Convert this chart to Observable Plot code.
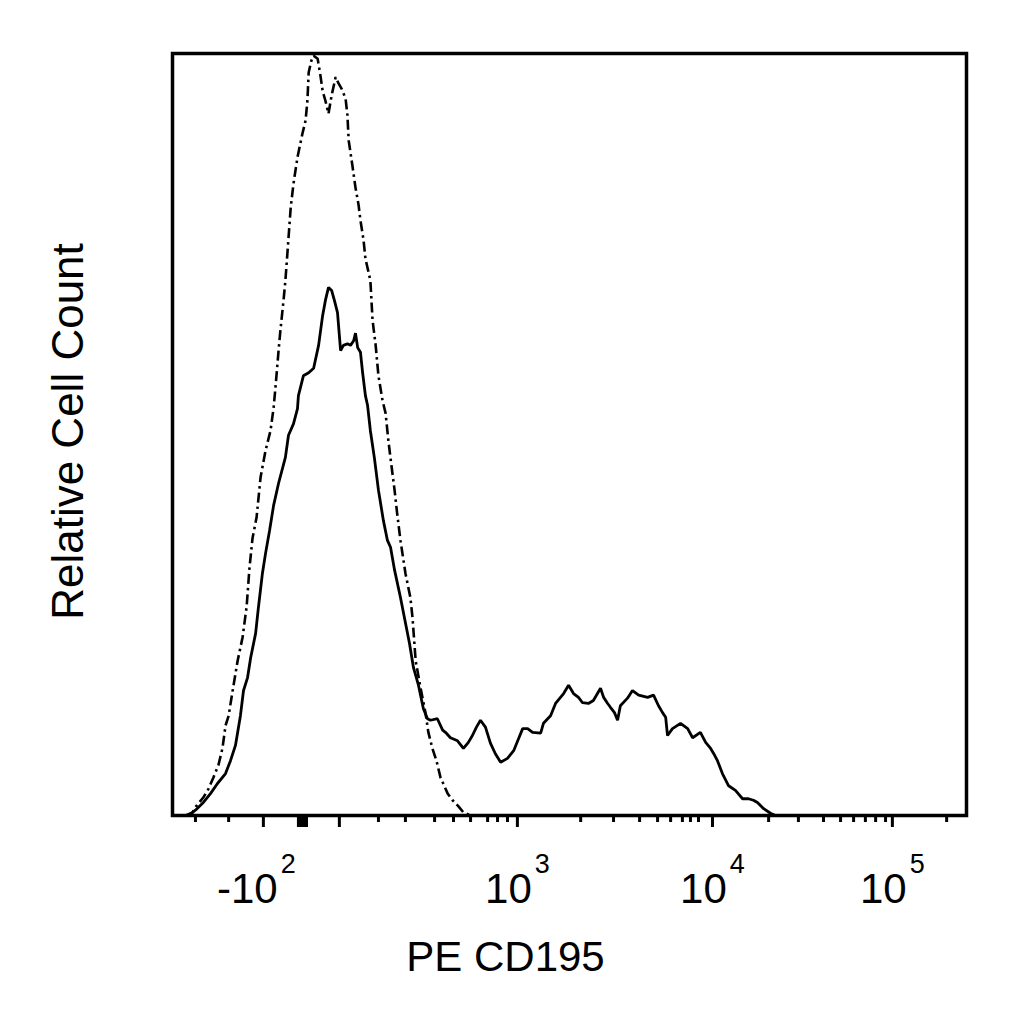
<!DOCTYPE html>
<html>
<head>
<meta charset="utf-8">
<script src="https://cdn.jsdelivr.net/npm/d3@7"></script>
<script src="https://cdn.jsdelivr.net/npm/@observablehq/plot@0.6"></script>
<style>
  html, body { margin: 0; padding: 0; background: #fff; }
  #chart svg { display: block; }
</style>
</head>
<body>
<div id="chart"></div>
<script>
// x values are display channels (0–256) of the biexponential PE CD195 axis; y is relative cell count (% of max)
const stainedChannel = [5.2, 7.4, 9.7, 12.3, 14.5, 17.1, 18.7, 20.3, 21.9, 22.9, 24.2, 25.2, 26.8, 27.7, 29.0, 30.0, 31.3, 32.6, 34.2, 36.4, 37.4, 39.0, 40.3, 40.6, 42.2, 43.9, 45.5, 47.1, 48.4, 49.3, 50.3, 51.3, 52.2, 53.2, 54.2, 55.1, 56.4, 57.4, 58.4, 59.0, 59.7, 60.6, 61.3, 62.2, 62.9, 63.8, 65.1, 66.4, 68.0, 69.3, 70.3, 71.6, 73.5, 75.1, 76.4, 77.7, 79.3, 80.9, 82.2, 83.2, 85.4, 87.1, 88.3, 89.6, 91.9, 93.8, 95.4, 96.7, 98.0, 99.3, 100.9, 102.5, 104.1, 105.8, 108.0, 110.0, 111.6, 112.9, 114.5, 116.1, 118.7, 119.6, 121.9, 123.5, 125.1, 126.1, 127.7, 129.3, 130.9, 132.2, 134.1, 135.7, 138.0, 139.0, 140.3, 141.2, 142.5, 143.5, 144.4, 146.7, 148.3, 150.3, 153.2, 155.1, 156.7, 158.0, 159.0, 159.6, 161.2, 163.8, 166.1, 167.7, 170.2, 171.9, 173.5, 174.8, 175.7, 177.3, 179.3, 181.5, 183.8, 185.7, 187.3, 188.6, 190.6, 192.8, 194.4];
const stainedCount = [0, 0.7, 1.6, 2.9, 4.2, 5.5, 7.2, 9.2, 13.1, 16.4, 18.1, 20.7, 23.9, 27.3, 31.8, 34.4, 37.4, 40.7, 43.6, 47.0, 49.9, 51.4, 53.4, 55.1, 57.7, 58.1, 58.7, 61.7, 65.6, 67.6, 69.3, 68.9, 67.6, 66.0, 61.0, 61.7, 61.9, 61.7, 62.3, 63.3, 61.4, 60.8, 58.1, 55.1, 53.8, 50.5, 46.9, 42.7, 38.7, 36.1, 35.2, 32.2, 28.6, 25.3, 22.6, 19.4, 17.1, 14.0, 12.7, 12.5, 12.7, 11.2, 10.8, 10.2, 9.8, 8.8, 9.6, 10.5, 11.6, 12.5, 11.6, 9.5, 8.1, 7.0, 7.5, 8.5, 10.1, 11.4, 11.4, 10.9, 10.8, 12.1, 13.1, 14.7, 15.5, 16.0, 17.1, 16.0, 15.5, 14.8, 14.7, 15.1, 16.7, 15.5, 14.7, 14.2, 13.5, 12.5, 14.4, 15.4, 16.4, 15.8, 15.5, 15.8, 14.4, 13.5, 12.9, 10.5, 11.4, 12.1, 11.4, 10.2, 10.9, 9.6, 8.8, 7.9, 7.2, 5.5, 3.9, 3.3, 2.2, 2.2, 2.0, 1.7, 0.9, 0.3, 0];

const isotypeChannel = [4.2, 6.5, 7.4, 10.0, 11.6, 13.2, 14.8, 16.1, 17.1, 18.1, 19.4, 21.0, 22.6, 23.9, 24.8, 25.8, 27.1, 28.4, 30.0, 31.6, 32.6, 33.2, 34.2, 34.8, 35.8, 36.4, 37.1, 38.1, 39.0, 40.3, 41.9, 42.9, 43.5, 43.9, 44.8, 45.5, 46.8, 47.7, 48.4, 49.3, 50.3, 51.3, 52.6, 53.5, 54.5, 55.8, 56.4, 56.8, 58.0, 59.0, 60.0, 60.6, 61.6, 62.2, 63.2, 63.8, 64.5, 65.5, 66.4, 67.7, 68.7, 69.6, 70.6, 71.6, 72.5, 73.5, 75.1, 76.7, 77.4, 78.4, 80.0, 81.6, 82.5, 83.8, 85.1, 86.4, 88.7, 90.3, 92.2, 93.8, 96.1];
const isotypeCount = [0, 0.4, 1.1, 2.4, 3.5, 5.0, 6.6, 8.8, 11.8, 13.1, 16.4, 20.3, 23.4, 27.4, 32.4, 36.4, 39.1, 44.4, 47.9, 50.5, 53.5, 56.2, 61.0, 63.7, 67.6, 70.2, 74.1, 79.7, 82.9, 86.4, 89.5, 91.2, 93.8, 97.5, 99.1, 99.7, 99.3, 97.1, 95.1, 93.8, 92.1, 94.5, 96.9, 96.1, 95.4, 94.1, 91.9, 88.6, 85.3, 82.4, 80.1, 78.1, 75.5, 73.1, 71.3, 70.2, 65.0, 61.7, 57.7, 54.5, 52.8, 49.2, 45.9, 42.7, 39.4, 36.1, 31.8, 28.6, 25.9, 20.3, 16.7, 13.4, 10.9, 8.8, 7.2, 5.0, 2.9, 2.0, 1.2, 0.4, 0];

// axis ticks (display channels) and their labels
const majorTickChannel = [29.3, 53.8, 111.2, 174.1, 232.1];
const majorTickLabel = ["-10^2", "", "10^3", "10^4", "10^5"];
const zeroTickChannel = [40.6, 41.3, 41.9, 42.6, 43.2];
const minorTickChannel = [7.4, 18.1, 66.4, 75.1, 84.5, 90.6, 96.1, 101.6, 104.8, 108.0, 131.6, 142.2, 150.6, 156.4, 160.6, 164.4, 167.0, 169.6, 192.2, 201.8, 209.9, 215.4, 219.6, 223.4, 226.7, 229.9, 249.6];

const xLabel = "PE CD195";
const yLabel = "Relative Cell Count";

const stained = stainedChannel.map((x, i) => ({x, y: stainedCount[i]}));
const isotype = isotypeChannel.map((x, i) => ({x, y: isotypeCount[i]}));
const tickLabels = majorTickChannel.map((x, i) => ({x, label: majorTickLabel[i]})).filter(d => d.label);

const chart = Plot.plot({
  width: 1024,
  height: 1024,
  marginLeft: 172,
  marginRight: 58,
  marginTop: 53,
  marginBottom: 209,
  style: {fontFamily: "'Liberation Sans', Arial, sans-serif", background: "#fff", color: "#000"},
  x: {domain: [0, 256], axis: null},
  y: {domain: [0, 100], axis: null},
  marks: [
    Plot.line(isotype, {x: "x", y: "y", stroke: "#000", strokeWidth: 2.6, strokeDasharray: "10,4,2.5,4", strokeLinecap: "butt", strokeLinejoin: "miter"}),
    Plot.line(stained, {x: "x", y: "y", stroke: "#000", strokeWidth: 2.8, strokeLinejoin: "miter"}),
    Plot.axisX({ticks: minorTickChannel, tickSize: 7, tickFormat: () => "", strokeWidth: 3, label: null}),
    Plot.axisX({ticks: majorTickChannel.concat(zeroTickChannel), tickSize: 12, tickFormat: () => "", strokeWidth: 3, label: null}),
    Plot.text(tickLabels, {x: "x", text: "label", frameAnchor: "bottom", dy: 87, lineAnchor: "bottom", fontSize: 42, fill: "#000", className: "ticklab"}),
    Plot.text([xLabel], {text: d => d, frameAnchor: "bottom", dx: -64, dy: 155, lineAnchor: "bottom", textAnchor: "middle", fontSize: 42, fill: "#000"}),
    Plot.text([yLabel], {text: d => d, frameAnchor: "left", dx: -90, dy: -3, rotate: -90, lineAnchor: "bottom", textAnchor: "middle", fontSize: 44, fill: "#000"}),
    Plot.frame({stroke: "#000", strokeWidth: 3.5})
  ]
});

// render exponents as superscripts
chart.querySelectorAll("g.ticklab text").forEach(t => {
  const s = t.textContent;
  const [base, exp] = s.split("^");
  t.textContent = base;
  if (base.startsWith("-")) t.setAttribute("dx", "-7");
  const sup = document.createElementNS("http://www.w3.org/2000/svg", "tspan");
  sup.setAttribute("dy", "-30");
  sup.setAttribute("dx", "3");
  sup.setAttribute("font-size", "27");
  sup.textContent = exp;
  t.appendChild(sup);
});

document.getElementById("chart").appendChild(chart);
</script>
</body>
</html>
